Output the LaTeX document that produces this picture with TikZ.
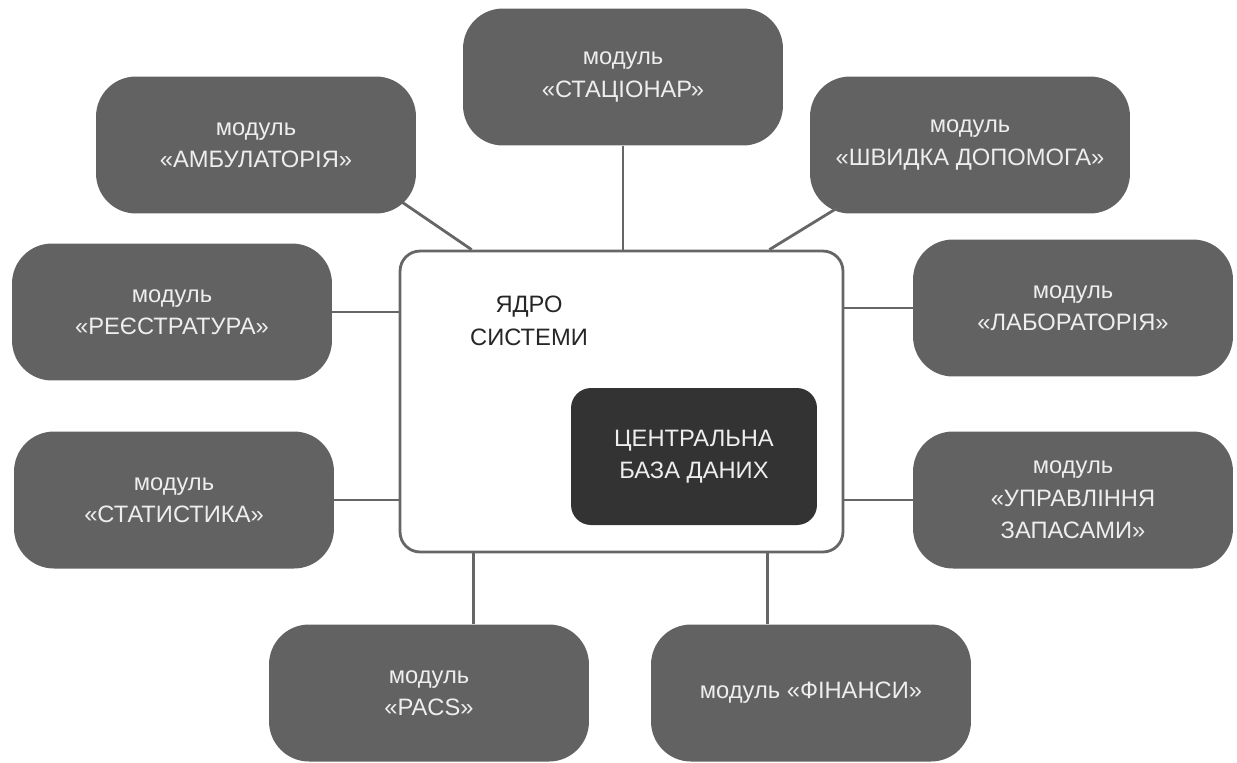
\documentclass[tikz,border=0pt]{standalone}
\usepackage{fontspec}
\setmainfont{Liberation Sans}
\definecolor{modgray}{HTML}{626262}
\definecolor{dbgray}{HTML}{333333}
\definecolor{linegray}{HTML}{666666}
\definecolor{txtlight}{HTML}{EEEEEE}
\tikzset{
    modul/.style={rounded corners=0.8cm,fill=modgray,text=txtlight,align=center,
        minimum width=6.4cm,minimum height=2.74cm,inner sep=0pt,
        font=\fontsize{13.5}{18.5}\selectfont},
    link/.style={draw=linegray,line width=1.6pt}
}
\begin{document}
\begin{tikzpicture}[x=0.02cm,y=-0.02cm]
    \useasboundingbox (0,0) rectangle (1237,762);
    % core and database
    \node[draw=linegray,line width=1.6pt,fill=white,rounded corners=0.4cm,
        minimum width=8.86cm,minimum height=6.02cm,inner sep=0pt] (core) at (621.5,401.5) {};
    \node[align=center,text=black!85,font=\fontsize{13.5}{18.5}\selectfont] (coretxt) at (529,321) {ЯДРО\\СИСТЕМИ};
    \node[fill=dbgray,rounded corners=0.4cm,text=txtlight,align=center,
        minimum width=4.92cm,minimum height=2.74cm,inner sep=0pt,
        font=\fontsize{13.5}{18.5}\selectfont] (db) at (694,456.5) {ЦЕНТРАЛЬНА\\БАЗА ДАНИХ};
    % modules
    \node[modul] (stac) at (623,77) {модуль\\«СТАЦІОНАР»};
    \node[modul] (amb) at (256,145) {модуль\\«АМБУЛАТОРІЯ»};
    \node[modul] (shv) at (970,145) {модуль\\«ШВИДКА ДОПОМОГА»};
    \node[modul] (reg) at (172,312) {модуль\\«РЕЄСТРАТУРА»};
    \node[modul] (lab) at (1073,308) {модуль\\«ЛАБОРАТОРІЯ»};
    \node[modul] (stat) at (174,500) {модуль\\«СТАТИСТИКА»};
    \node[modul] (zap) at (1073,500) {модуль\\«УПРАВЛІННЯ\\ЗАПАСАМИ»};
    \node[modul] (pacs) at (429,693) {модуль\\«PACS»};
    \node[modul] (fin) at (811,693) {модуль «ФІНАНСИ»};
    % connectors
    \coordinate (camb) at ([xshift=1.46cm]core.north west);
    \coordinate (cshv) at ([xshift=-1.5cm]core.north east);
    \coordinate (cpacs) at ([xshift=1.5cm]core.south west);
    \coordinate (cfin) at ([xshift=-1.54cm]core.south east);
    \draw[link] (stac.south) -- (stac.south |- core.north);
    \draw[link] (camb) -- ([xshift=-0.28cm,yshift=0.23cm]amb.south east);
    \draw[link] (cshv) -- ([xshift=0.54cm,yshift=0.11cm]shv.south west);
    \foreach \m in {reg,stat}
    {
        \draw[link] (\m.east) -- (\m.east -| core.west);
    }
    \foreach \m in {lab,zap}
    {
        \draw[link] (\m.west) -- (\m.west -| core.east);
    }
    \draw[link] (cpacs) -- (cpacs |- pacs.north);
    \draw[link] (cfin) -- (cfin |- fin.north);
\end{tikzpicture}
\end{document}
